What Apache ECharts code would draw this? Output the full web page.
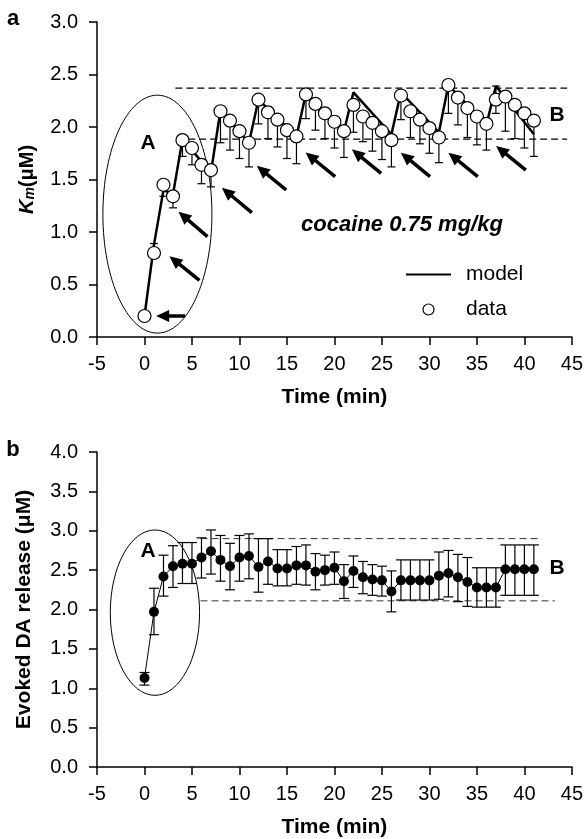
<!DOCTYPE html>
<html><head><meta charset="utf-8">
<script src="https://cdn.jsdelivr.net/npm/echarts@6/dist/echarts.min.js"></script>
<style>html,body{margin:0;padding:0;background:#fff}#c{width:586px;height:839px}</style>
</head><body><div id="c"></div>
<script>
const FONT = '"Liberation Sans", Arial, Helvetica, sans-serif';

// ---------- Panel a : Km ----------
const timeA = [0,1,2,3,4,5,6,7,8,9,10,11,12,13,14,15,16,17,18,19,20,21,22,23,24,25,26,27,28,29,30,31,32,33,34,35,36,37,38,39,40,41];
const kmData = [0.20,0.80,1.45,1.34,1.875,1.80,1.64,1.59,2.15,2.06,1.96,1.85,2.26,2.14,2.07,1.97,1.91,2.31,2.22,2.13,2.05,1.96,2.21,2.10,2.04,1.96,1.875,2.30,2.15,2.07,1.99,1.90,2.40,2.28,2.18,2.10,2.03,2.26,2.29,2.21,2.13,2.06];
const kmLow  = [0.20,0.80,1.34,1.23,1.72,1.64,1.46,1.43,1.85,1.78,1.70,1.62,2.03,1.89,1.81,1.70,1.65,2.08,1.97,1.89,1.80,1.71,1.95,1.86,1.77,1.69,1.62,2.07,1.90,1.84,1.75,1.66,2.13,2.02,1.90,1.83,1.78,2.13,1.96,1.89,1.80,1.72];
const kmHigh = [0.20,0.89,1.45,1.34,1.875,1.80,1.64,1.59,2.15,2.06,1.96,1.85,2.26,2.14,2.07,1.97,1.91,2.31,2.22,2.13,2.05,1.96,2.21,2.10,2.04,1.96,1.875,2.30,2.15,2.07,1.99,1.90,2.40,2.28,2.18,2.10,2.03,2.39,2.29,2.21,2.13,2.06];
const modelTime = [0,1,2,3,4,7,8,11,12,16,17,21,22,26,27,31,32,36,37,41];
const modelKm   = [0.20,0.88,1.40,1.36,1.88,1.57,2.16,1.85,2.26,1.91,2.32,1.96,2.33,1.93,2.33,1.95,2.40,2.02,2.39,1.93];
const dashUpperA = [[3.25,2.37],[44.5,2.37]];
const dashLowerA = [[4.6,1.885],[44.5,1.885]];
const ellipseA = [[1.36,1.17,5.74,1.133]];   // centre t, centre value, radius t, radius value
const arrowsA = [ // tail t, tail value, tip t, tip value
  [4.28,0.20,1.23,0.20],
  [5.79,0.54,2.63,0.77],
  [6.63,0.956,3.58,1.194],
  [11.3,1.184,8.15,1.422],
  [14.92,1.40,11.83,1.63],
  [20.07,1.527,16.97,1.757],
  [24.92,1.559,21.83,1.787],
  [30.07,1.527,26.99,1.755],
  [35.09,1.527,32.0,1.755],
  [40.15,1.59,37.02,1.82]
];
const yTicksA = {min:0, max:3, step:0.5};

// ---------- Panel b : evoked DA release ----------
const timeB = [0,1,2,3,4,5,6,7,8,9,10,11,12,13,14,15,16,17,18,19,20,21,22,23,24,25,26,27,28,29,30,31,32,33,34,35,36,37,38,39,40,41];
const daData = [1.13,1.97,2.42,2.55,2.58,2.58,2.66,2.74,2.63,2.55,2.66,2.68,2.54,2.61,2.52,2.52,2.56,2.56,2.48,2.50,2.53,2.36,2.49,2.41,2.38,2.37,2.23,2.37,2.37,2.37,2.37,2.43,2.46,2.41,2.35,2.28,2.28,2.28,2.51,2.51,2.51,2.51];
const daHigh = [1.20,2.27,2.69,2.81,2.85,2.85,2.91,3.01,2.94,2.84,2.94,2.96,2.90,2.90,2.76,2.76,2.80,2.82,2.71,2.69,2.73,2.57,2.68,2.61,2.57,2.55,2.49,2.63,2.63,2.63,2.63,2.73,2.75,2.70,2.66,2.53,2.53,2.53,2.82,2.82,2.82,2.82];
const daLow  = [1.04,1.68,2.17,2.28,2.33,2.33,2.40,2.45,2.36,2.25,2.36,2.39,2.22,2.32,2.30,2.30,2.32,2.31,2.25,2.31,2.32,2.14,2.28,2.20,2.18,2.17,1.97,2.12,2.12,2.12,2.12,2.13,2.16,2.10,2.04,2.03,2.03,2.03,2.18,2.18,2.18,2.18];
const dashUpperB = [[5.9,2.90],[41.7,2.90]];
const dashLowerB = [[5.9,2.11],[43.2,2.11]];
const ellipseB = [[1.1,1.96,4.7,1.05]];
const yTicksB = {min:0, max:4, step:0.5};
const xTicks = {min:-5, max:45, step:5};

// ---------- helpers ----------
function errRender(capHalf, lw) {
  return function (params, api) {
    const x = api.value(0), lo = api.value(1), hi = api.value(2), m = api.value(3);
    const pl = api.coord([x, lo]), ph = api.coord([x, hi]);
    const st = {stroke:'#000', lineWidth:lw};
    const ch = [{type:'line', shape:{x1:pl[0],y1:pl[1],x2:ph[0],y2:ph[1]}, style:st}];
    if (lo < m - 0.001) ch.push({type:'line', shape:{x1:pl[0]-capHalf,y1:pl[1],x2:pl[0]+capHalf,y2:pl[1]}, style:st});
    if (hi > m + 0.001) ch.push({type:'line', shape:{x1:ph[0]-capHalf,y1:ph[1],x2:ph[0]+capHalf,y2:ph[1]}, style:st});
    return {type:'group', children:ch};
  };
}
function ellipseRender(params, api) {
  const c = api.coord([api.value(0), api.value(1)]);
  const s = api.size([api.value(2), api.value(3)]);
  return {type:'ellipse', shape:{cx:c[0], cy:c[1], rx:s[0], ry:s[1]}, style:{fill:'none', stroke:'#000', lineWidth:1}};
}
function arrowRender(params, api) {
  const p1 = api.coord([api.value(0), api.value(1)]);
  const p2 = api.coord([api.value(2), api.value(3)]);
  const dx = p2[0]-p1[0], dy = p2[1]-p1[1];
  const L = Math.sqrt(dx*dx+dy*dy), ux = dx/L, uy = dy/L, nx = -uy, ny = ux;
  const H = 13, W = 6;
  const bx = p2[0]-ux*H, by = p2[1]-uy*H;
  return {type:'group', children:[
    {type:'line', shape:{x1:p1[0],y1:p1[1],x2:bx+ux*2,y2:by+uy*2}, style:{stroke:'#000', lineWidth:3.5}},
    {type:'polygon', shape:{points:[[p2[0],p2[1]],[bx+nx*W,by+ny*W],[bx-nx*W,by-ny*W]]}, style:{fill:'#000'}}
  ]};
}
function xAxis(i) {
  return {type:'value', gridIndex:i, min:xTicks.min, max:xTicks.max, interval:xTicks.step,
    name:'Time (min)', nameLocation:'middle', nameGap:50,
    nameTextStyle:{fontSize:21, fontWeight:'bold', color:'#000', fontFamily:FONT},
    axisLine:{onZero:false, lineStyle:{color:'#000', width:1.5}},
    axisTick:{length:8, lineStyle:{color:'#000', width:1.5}},
    axisLabel:{fontSize:20, color:'#000', margin:17, fontFamily:FONT},
    splitLine:{show:false}};
}
function yAxis(i, t, name, gap, nts) {
  return {type:'value', gridIndex:i, min:t.min, max:t.max, interval:t.step,
    name:name, nameLocation:'middle', nameGap:gap, nameRotate:90, nameTextStyle:nts,
    axisLine:{show:true, onZero:false, lineStyle:{color:'#000', width:1.5}},
    axisTick:{show:true, length:8, lineStyle:{color:'#000', width:1.5}},
    axisLabel:{fontSize:20, color:'#000', margin:19, fontFamily:FONT, formatter:v=>v.toFixed(1)},
    splitLine:{show:false}};
}
const zip = (a,b) => a.map((v,i)=>[v,b[i]]);
const dashStyle = (c,w) => ({color:c, width:w, type:[7,4]});

const option = {
  animation:false,
  backgroundColor:'#fff',
  textStyle:{fontFamily:FONT},
  grid:[{left:97, top:22, width:475, height:315}, {left:97, top:452, width:475, height:316}],
  xAxis:[xAxis(0), xAxis(1)],
  yAxis:[
    yAxis(0, yTicksA, '{k|K}{m|m}{n|(μM)}', 60, {color:'#000', rich:{
      k:{fontSize:20, fontWeight:'bold', fontStyle:'italic', fontFamily:FONT, lineHeight:24, verticalAlign:'bottom'},
      m:{fontSize:14, fontStyle:'italic', fontWeight:'bold', fontFamily:FONT, lineHeight:14, verticalAlign:'bottom'},
      n:{fontSize:20, fontWeight:'bold', fontFamily:FONT, lineHeight:24, verticalAlign:'bottom'}}}),
    yAxis(1, yTicksB, 'Evoked DA release (μM)', 62, {fontSize:21, fontWeight:'bold', color:'#000', fontFamily:FONT})
  ],
  legend:{
    data:[{name:'model', itemStyle:{opacity:0}},
          {name:'data', icon:'circle', itemStyle:{color:'#fff', borderColor:'#000', borderWidth:1.2}}],
    orient:'vertical', left:400, top:259, itemWidth:45, itemHeight:11, itemGap:14, selectedMode:false,
    textStyle:{fontSize:21, color:'#000', fontFamily:FONT, padding:[0,0,0,10]}
  },
  series:[
    {type:'custom', name:'errA', xAxisIndex:0, yAxisIndex:0, renderItem:errRender(4,1.2), z:2,
      data:timeA.map((t,i)=>[t,kmLow[i],kmHigh[i],kmData[i]]), encode:{x:0, y:[1,2]}, silent:true},
    {type:'line', name:'dashUA', xAxisIndex:0, yAxisIndex:0, data:dashUpperA, symbol:'none', lineStyle:dashStyle('#000',1.2), z:1, silent:true},
    {type:'line', name:'dashLA', xAxisIndex:0, yAxisIndex:0, data:dashLowerA, symbol:'none', lineStyle:dashStyle('#000',1.2), z:1, silent:true},
    {type:'custom', name:'ellA', xAxisIndex:0, yAxisIndex:0, renderItem:ellipseRender, data:ellipseA, encode:{x:0,y:1}, z:1, silent:true},
    {type:'custom', name:'arrA', xAxisIndex:0, yAxisIndex:0, renderItem:arrowRender, data:arrowsA, encode:{x:[0,2],y:[1,3]}, z:3, silent:true},
    {type:'line', name:'model', xAxisIndex:0, yAxisIndex:0, data:zip(modelTime, modelKm), symbol:'none',
      lineStyle:{color:'#000', width:2.5}, itemStyle:{color:'#000'}, z:3},
    {type:'scatter', name:'data', xAxisIndex:0, yAxisIndex:0, data:zip(timeA, kmData), symbol:'circle', symbolSize:13,
      itemStyle:{color:'#fff', borderColor:'#000', borderWidth:1.2, opacity:1}, z:4},

    {type:'custom', name:'errB', xAxisIndex:1, yAxisIndex:1, renderItem:errRender(5,1.2), z:2,
      data:timeB.map((t,i)=>[t,daLow[i],daHigh[i],daData[i]]), encode:{x:0, y:[1,2]}, silent:true},
    {type:'line', name:'dashUB', xAxisIndex:1, yAxisIndex:1, data:dashUpperB, symbol:'none', lineStyle:dashStyle('#333',1), z:1, silent:true},
    {type:'line', name:'dashLB', xAxisIndex:1, yAxisIndex:1, data:dashLowerB, symbol:'none', lineStyle:dashStyle('#333',1), z:1, silent:true},
    {type:'custom', name:'ellB', xAxisIndex:1, yAxisIndex:1, renderItem:ellipseRender, data:ellipseB, encode:{x:0,y:1}, z:1, silent:true},
    {type:'line', name:'release', xAxisIndex:1, yAxisIndex:1, data:zip(timeB, daData), symbol:'circle', symbolSize:10, showSymbol:true,
      lineStyle:{color:'#000', width:1}, itemStyle:{color:'#000'}, z:4}
  ],
  graphic:[
    {type:'text', x:13, y:19, style:{text:'a', fontSize:22, fontWeight:'bold', fontFamily:FONT, fill:'#000', align:'center', verticalAlign:'middle'}},
    {type:'text', x:13, y:450, style:{text:'b', fontSize:22, fontWeight:'bold', fontFamily:FONT, fill:'#000', align:'center', verticalAlign:'middle'}},
    {type:'text', x:148, y:143, style:{text:'A', fontSize:21, fontWeight:'bold', fontFamily:FONT, fill:'#000', align:'center', verticalAlign:'middle'}},
    {type:'text', x:557, y:115, style:{text:'B', fontSize:21, fontWeight:'bold', fontFamily:FONT, fill:'#000', align:'center', verticalAlign:'middle'}},
    {type:'text', x:148, y:551, style:{text:'A', fontSize:21, fontWeight:'bold', fontFamily:FONT, fill:'#000', align:'center', verticalAlign:'middle'}},
    {type:'text', x:557, y:568, style:{text:'B', fontSize:21, fontWeight:'bold', fontFamily:FONT, fill:'#000', align:'center', verticalAlign:'middle'}},
    {type:'text', x:402, y:225, style:{text:'cocaine 0.75 mg/kg', fontSize:22, fontWeight:'bold', fontStyle:'italic', fontFamily:FONT, fill:'#000', align:'center', verticalAlign:'middle'}}
  ]
};
const chart = echarts.init(document.getElementById('c'), null, {renderer:'canvas'});
chart.setOption(option);
</script></body></html>
